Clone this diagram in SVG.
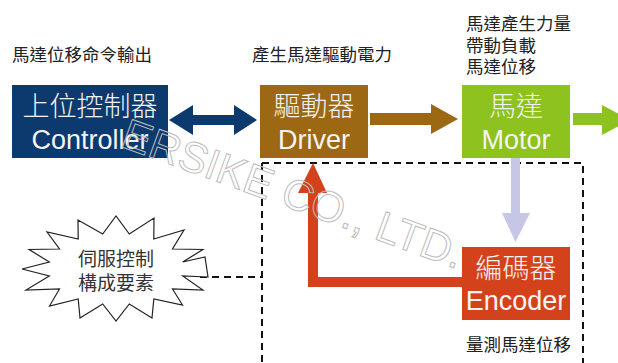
<svg xmlns="http://www.w3.org/2000/svg" width="618" height="363" viewBox="0 0 618 363">
<style>
.lbl{font-family:"Liberation Sans","Noto Sans CJK TC",sans-serif;font-size:17.5px;fill:#222}
.cjk{font-family:"Noto Sans CJK TC","Liberation Sans",sans-serif;font-size:27px;font-weight:300;fill:#f2f2f2;text-anchor:middle}
.lat{font-family:"Liberation Sans","Noto Sans CJK TC",sans-serif;font-size:27px;fill:#f4f4f4;text-anchor:middle}
.dash{fill:none;stroke:#111;stroke-width:2;stroke-dasharray:7 5}
.wm{font-family:"Liberation Sans",sans-serif;font-size:43px;fill:none;stroke:#bdbdbd;stroke-width:1}
</style>
<rect width="618" height="363" fill="#ffffff"/>

<g id="labels">
<text class="lbl" x="12" y="61">馬達位移命令輸出</text>
<text class="lbl" x="252" y="61">產生馬達驅動電力</text>
<text class="lbl" x="466" y="30">馬達產生力量</text>
<text class="lbl" x="466" y="52">帶動負載</text>
<text class="lbl" x="466" y="73">馬達位移</text>
<text class="lbl" x="466" y="351">量測馬達位移</text>
</g>

<g id="connectors">
<path class="dash" d="M262,163 H583 V363 M262,163 V363 M200,277 H262"/>
<polygon fill="#0d3a6e" points="169,120 193,105 193,115 234,115 234,105 257,120 234,135 234,125 193,125 193,135"/>
<polygon fill="#9c6813" points="370,113 431,113 431,104 458,119 431,134 431,125 370,125"/>
<polygon fill="#8dc21f" points="573,113 602,113 602,105 630,120 602,135 602,125 573,125"/>
<polygon fill="#c6c7e7" points="511,158 520,158 520,213 530,213 515.5,242 502,213 511,213"/>
<polygon fill="#d4421b" points="462,277 462,287 308,287 308,193 298,193 313,163 327,193 318,193 318,277"/>
</g>

<g id="controller">
<rect x="12" y="85" width="156" height="73" fill="#0d3a6e"/>
<text class="cjk" x="90" y="116">上位控制器</text>
<text class="lat" x="90" y="149">Controller</text>
</g>

<g id="driver">
<rect x="260" y="85" width="108" height="73" fill="#9c6813"/>
<text class="cjk" x="314" y="116">驅動器</text>
<text class="lat" x="314" y="149">Driver</text>
</g>

<g id="motor">
<rect x="462" y="85" width="108" height="73" fill="#8dc21f"/>
<text class="cjk" x="516" y="116">馬達</text>
<text class="lat" x="516" y="149">Motor</text>
</g>

<g id="encoder">
<rect x="462" y="247" width="108" height="73" fill="#d4421b"/>
<text class="cjk" x="516" y="278">編碼器</text>
<text class="lat" x="516" y="310">Encoder</text>
</g>

<g id="servo-elements">
<polygon fill="#ffffff" stroke="#222" stroke-width="1.2" points="208,277 182.7,276 202.9,290 172.5,289 182.5,305 153.8,299 152,318 129.3,304 116,321 102.7,304 80,318 78.2,299 49.5,306 59.5,289 26,290 49.3,276 22,269 49.3,262 29.1,249.5 59.5,249 47,232 78.2,239 78,220 102.7,234 116,216 129.3,234 154,218 153.8,239 184,230 172.5,249 202.9,249.5 182.7,262 205,257"/>
<text class="lbl" x="116" y="266" text-anchor="middle" style="font-size:19px;fill:#333">伺服控制</text>
<text class="lbl" x="116" y="290" text-anchor="middle" style="font-size:19px;fill:#333">構成要素</text>
</g>

<g id="watermark">
<text class="wm" transform="translate(119,146) rotate(20)">ERSIKE CO., LTD.</text>
</g>
</svg>
